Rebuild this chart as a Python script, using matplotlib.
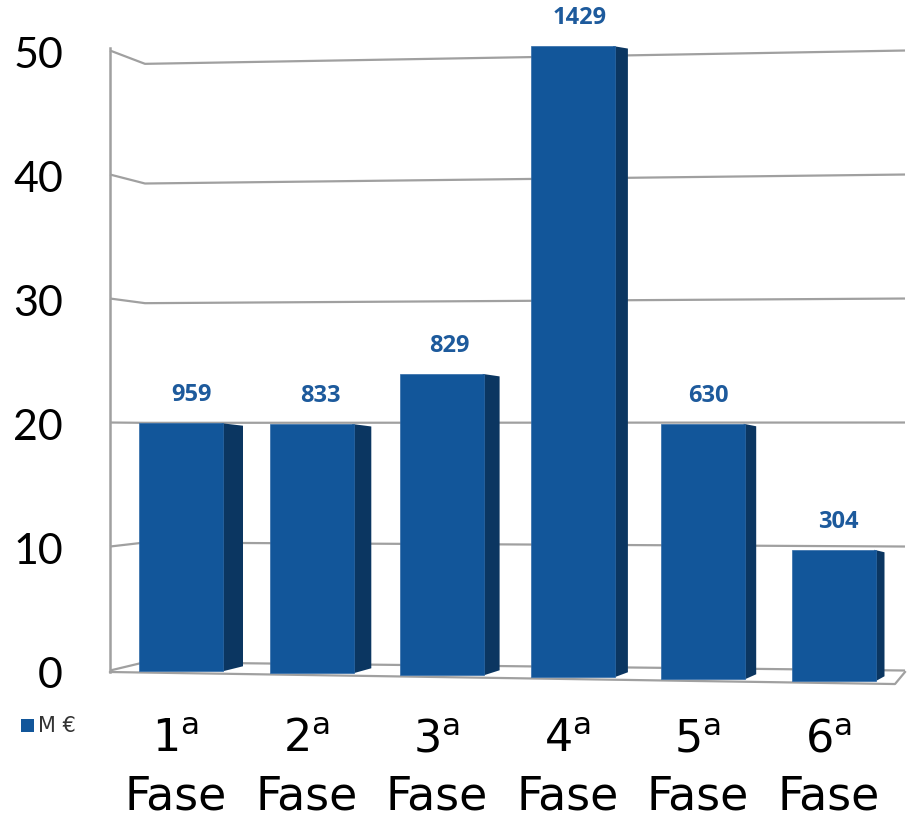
import numpy as np
import matplotlib.pyplot as plt
from matplotlib.patches import Polygon

# data
fases = ['1', '2', '3', '4', '5', '6']
heights = [20.0, 20.1, 24.3, 50.9, 20.6, 10.6]
labels = ['959', '833', '829', '1429', '630', '304']
yticks = [0, 10, 20, 30, 40, 50]

plt.rcParams['mathtext.fontset'] = 'custom'
plt.rcParams['mathtext.rm'] = 'DejaVu Sans'

front_col = '#12569a'
side_col = '#0b3661'
grid_col = '#a0a0a0'
lab_col = '#1d5a9c'

# pixel -> data scale (x: one category per 130.5 px, y: 12.4 px per unit)
px_x = 1 / 130.5
px_y = 1 / 12.4

fig = plt.figure(figsize=(9.08, 8.24), dpi=100)
ax = fig.add_axes([0, 0, 1, 1])
ax.set_xlim(-181 * px_x, (908 - 181) * px_x)
ax.set_ylim(-(824 - 673) * px_y, 673 * px_y)
ax.axis('off')

xw = (110 - 181) * px_x      # left wall
xb = (145 - 181) * px_x      # start of back wall
xr = (905 - 181) * px_x      # right end

# back wall gridlines with the small perspective kink at the left wall
for v in yticks:
    back = v + (25 - v) * 0.035
    ax.plot([xw, xb, xr], [v + 0.2, back, v + 0.2], color=grid_col, lw=1.6,
            solid_capstyle='butt', zorder=1)
ax.plot([xw, xw], [0.08, 50.4], color=grid_col, lw=1.8, zorder=1)

# floor
xf = (895 - 181) * px_x
ax.plot([xw, xf, xr], [0.08, -0.89, 0.08], color=grid_col, lw=1.6, zorder=1)

def floor_y(x):
    return 0.08 + (x - xw) * (-0.97 / (xf - xw)) + 0.15

w = 84 * px_x
for i, (h, lab) in enumerate(zip(heights, labels)):
    d = (20 - 2.2 * i) * px_x
    x0 = i - w / 2
    x1 = i + w / 2
    y0 = floor_y(i)
    top = y0 + h
    side = Polygon([(x1, y0), (x1 + d, y0 + 0.4), (x1 + d, top - 0.2), (x1 - 0.01, top)],
                   closed=True, facecolor=side_col, edgecolor='none', zorder=3)
    ax.add_patch(side)
    ax.bar(i, h, width=w, bottom=y0, color=front_col, edgecolor='#2f6aa8',
           linewidth=0.5, zorder=4)
    ax.text(i + d / 2, top + 1.3, lab, ha='center', va='bottom', color=lab_col,
            fontsize=17, fontweight='bold', family='Open Sans', zorder=5)

    # category label
    ax.text(i - 0.04, (673 - 740) * px_y, fases[i] + r'$^{\mathrm{a}}$', ha='center',
            va='center', fontsize=32, family='DejaVu Sans', color='black')
    ax.text(i - 0.04, (673 - 797) * px_y, 'Fase', ha='center', va='center',
            fontsize=33, family='DejaVu Sans', color='black')

# y tick labels
for v in yticks:
    ax.text((63 - 181) * px_x, v - 0.25, str(v), ha='right', va='center',
            fontsize=31, family='Lato', color='black')

# legend
ax.add_patch(plt.Rectangle(((21 - 181) * px_x, (673 - 732) * px_y), 13 * px_x, 13 * px_y,
                           facecolor=front_col, edgecolor='none'))
ax.text((38 - 181) * px_x, (673 - 726) * px_y, 'M €', ha='left', va='center',
        fontsize=15, family='DejaVu Sans', color='#333333')

fig.savefig('out.png', dpi=100)
